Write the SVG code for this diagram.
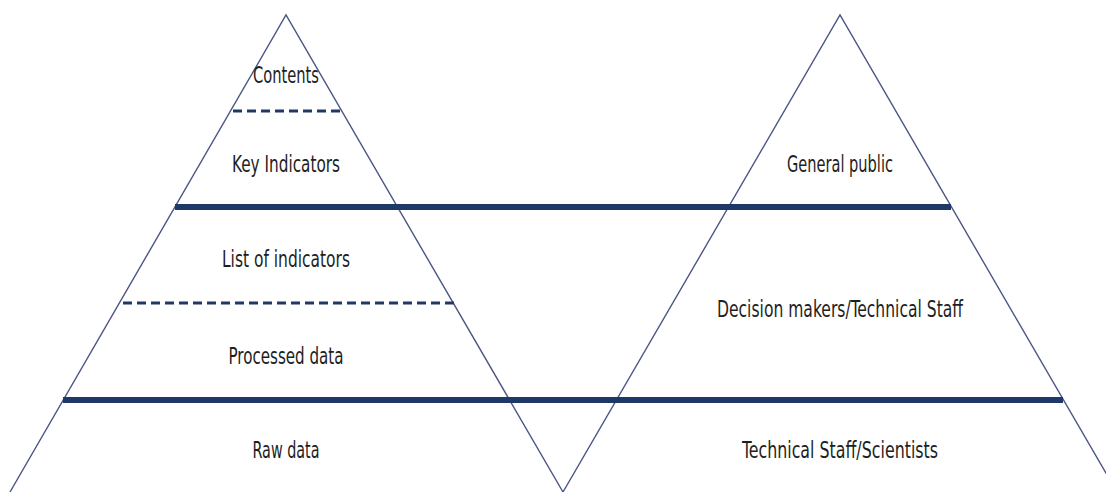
<svg xmlns="http://www.w3.org/2000/svg" width="1106" height="492" viewBox="0 0 1106 492">
<style>
.side{stroke:#4b5686;stroke-width:1.4;fill:none}
.thick{stroke:#1f3868;stroke-width:6;fill:none}
.dash{stroke:#1f3868;stroke-width:3;stroke-dasharray:9 5;fill:none}
.lbl{font-family:"Liberation Sans Narrow","DejaVu Sans Condensed","Liberation Sans",sans-serif;font-size:22.5px;fill:#1e1e1e;text-anchor:middle}
</style>
<rect width="1106" height="492" fill="#fff"/>
<g id="pyramid-left">
<path class="side" d="M10,492 L286,15 L563,492"/>
</g>
<g id="pyramid-right">
<path class="side" d="M563,492 L840,15 L1117,492"/>
</g>
<g id="connectors">
<line class="thick" x1="175" y1="207" x2="951" y2="207"/>
<line class="thick" x1="63" y1="400" x2="1063" y2="400"/>
<line class="dash" x1="233" y1="111" x2="342" y2="111"/>
<line class="dash" x1="123" y1="303" x2="454" y2="303"/>
</g>
<g id="contents"><text class="lbl" x="286" y="83" textLength="66" lengthAdjust="spacingAndGlyphs">Contents</text></g>
<g id="key-indicators"><text class="lbl" x="286" y="172" textLength="108" lengthAdjust="spacingAndGlyphs">Key Indicators</text></g>
<g id="list-of-indicators"><text class="lbl" x="286" y="267" textLength="128" lengthAdjust="spacingAndGlyphs">List of indicators</text></g>
<g id="processed-data"><text class="lbl" x="286" y="364" textLength="115" lengthAdjust="spacingAndGlyphs">Processed data</text></g>
<g id="raw-data"><text class="lbl" x="286" y="458" textLength="67" lengthAdjust="spacingAndGlyphs">Raw data</text></g>
<g id="general-public"><text class="lbl" x="840" y="172" textLength="106" lengthAdjust="spacingAndGlyphs">General public</text></g>
<g id="decision-makers"><text class="lbl" x="840" y="317" textLength="246" lengthAdjust="spacingAndGlyphs">Decision makers/Technical Staff</text></g>
<g id="technical-staff"><text class="lbl" x="840" y="458" textLength="196" lengthAdjust="spacingAndGlyphs">Technical Staff/Scientists</text></g>
</svg>
